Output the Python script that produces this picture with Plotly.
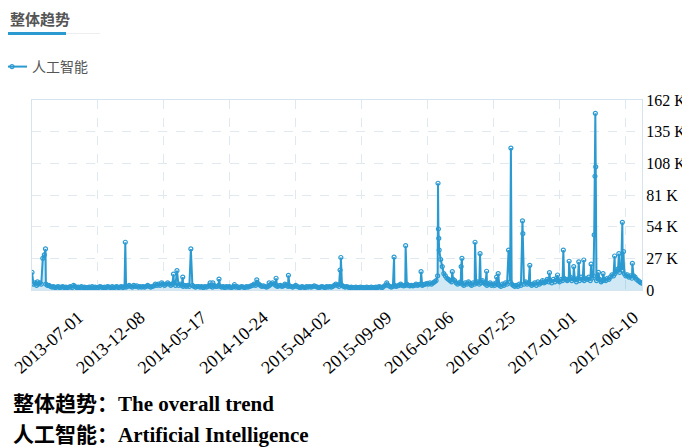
import plotly.graph_objects as go

# ---------------- data (values in thousands, "K") ----------------
series_name = "人工智能"
title_text = "整体趋势"
caption_lines = ["整体趋势：The overall trend", "人工智能：Artificial Intelligence"]

# category-axis labels (one label every 160 categories)
tick_labels = ["2013-07-01", "2013-12-08", "2014-05-17", "2014-10-24", "2015-04-02",
               "2015-09-09", "2016-02-06", "2016-07-25", "2017-01-01", "2017-06-10"]
first_label_index = 136
label_interval = 160
n_categories = 1583

y_tick_values = [0, 27, 54, 81, 108, 135, 162]
y_tick_labels = ["0", "27 K", "54 K", "81 K", "108 K", "135 K", "162 K"]

# baseline level read every 4th category
base_step = 4
baseline = [
    15, 5, 6, 4, 5, 6, 5, 4, 7, 5, 4, 4,
    3, 2.5, 3, 2, 2.5, 3, 2, 2.5, 3, 2, 2.5, 2,
    2.5, 3, 2, 4, 3, 2, 2.5, 2, 3, 2, 2.5, 2,
    2, 2.5, 2, 3, 2, 2.5, 2, 2, 3, 2.5, 2, 2.5,
    2, 3, 2.5, 2, 3, 2, 2.5, 3, 2, 2.5, 3, 2,
    3, 2.5, 3, 4, 3, 2.5, 4, 3, 3.5, 2.5, 3, 2.5,
    3, 2.5, 3, 4, 3, 2.5, 3, 3.5, 5, 4, 5, 4,
    6, 5, 4, 5, 6, 5, 4, 5, 6, 4, 5, 4,
    5, 4, 3, 4, 3, 4, 3, 3, 4, 3, 2.5, 3,
    3, 2.5, 3, 2, 3, 2.5, 3, 4, 3, 2.5, 4, 3,
    3, 4, 3, 2.5, 3, 2, 3, 2.5, 3, 2, 2.5, 3,
    2.5, 3, 2, 2.5, 3, 2.5, 2, 3, 2.5, 3, 3.5, 4,
    5, 4, 6, 5, 4, 3, 3.5, 3, 2.5, 3, 4, 5,
    6, 5, 4, 3, 3.5, 4, 3, 3.5, 5, 4, 3, 3.5,
    3, 2.5, 3, 4, 3, 2.5, 2, 3, 2.5, 2, 3, 2.5,
    3, 2.5, 3, 3.5, 3, 2.5, 2, 2.5, 3, 2.5, 2, 3,
    2.5, 3, 2.5, 3, 4, 5, 4, 3, 5, 4, 3, 2.5,
    3, 2.5, 2, 2.5, 2, 2, 2.5, 2, 2, 2.5, 2, 2,
    2, 2.5, 2, 2, 2.5, 2, 2, 2.5, 2, 3, 2.5, 2,
    3, 4, 6, 4, 3, 2.5, 3, 4, 3, 3.5, 4, 5,
    4, 3.5, 4, 5, 4, 3.5, 4, 3.5, 4, 5, 4, 4.5,
    5, 4, 4.5, 5, 5.5, 5, 6, 5, 6, 7, 8, 12,
    34, 26, 20, 14, 12, 10, 9, 8, 7, 9, 8, 6,
    5, 6, 7, 5, 4, 6, 5, 7, 5, 4, 6, 5,
    6, 7, 5, 6, 8, 6, 5, 4, 5, 6, 4, 5,
    4, 6, 5, 4, 3, 5, 4, 6, 5, 8, 7, 5,
    4, 3, 4, 3, 5, 4, 6, 5, 7, 5, 6, 5,
    4, 5, 6, 4, 7, 5, 6, 8, 6, 7, 9, 7,
    8, 6, 9, 7, 10, 8, 7, 9, 8, 10, 9, 8,
    9, 11, 8, 10, 9, 7, 10, 8, 11, 9, 8, 10,
    9, 11, 8, 10, 12, 9, 8, 10, 9, 7, 8, 9,
    8, 10, 9, 11, 13, 12, 14, 16, 18, 15, 19, 17,
    14, 12, 13, 11, 12, 10, 12, 11, 9, 8, 7, 6,
]

# individual peaks: category index and value (K)
peak_index = [14, 28, 32, 35, 242, 367, 376, 391, 412, 462, 469, 485, 525, 583, 615,
              633, 665, 799, 801, 939, 969, 1009, 1053, 1054, 1055, 1090, 1113, 1115,
              1149, 1162, 1179, 1205, 1209, 1236, 1242, 1272, 1273, 1291, 1342, 1363,
              1378, 1393, 1405, 1418, 1431, 1450, 1458, 1460, 1461, 1462, 1469, 1481,
              1511, 1522, 1531, 1534, 1557, 1582]
peak_value = [7, 27, 30, 35, 40.7, 13.5, 16.5, 11, 35, 6, 6, 9.3, 4.5, 8.7, 6,
              10, 12.5, 17, 27.7, 28, 37.8, 15.6, 91, 52, 44, 15.6, 20, 27,
              40.7, 31, 16, 11, 14, 34, 121, 59, 48, 21, 14.8, 12.8,
              34, 24.5, 20, 24, 25.6, 22, 47, 97, 150.6, 105, 15, 14,
              29, 31, 57.7, 32.7, 22.7, 6]

# ---------------- build series ----------------
points = {i * base_step: v for i, v in enumerate(baseline)}
for idx, v in zip(peak_index, peak_value):
    points[idx] = v
xs = sorted(points)
ys = [points[k] for k in xs]

BLUE = "#2b9ad1"
GRID = "#dfe9ef"
FRAME = "#d5e4ee"

fig = go.Figure()
# area under the line (no legend entry)
fig.add_trace(go.Scatter(
    x=xs, y=ys, mode="lines", line=dict(width=0, color=BLUE),
    fill="tozeroy", fillcolor="rgba(43,154,209,0.22)",
    showlegend=False, hoverinfo="skip",
))
# the line with hollow markers
fig.add_trace(go.Scatter(
    x=xs, y=ys, name=series_name, mode="lines+markers",
    line=dict(color=BLUE, width=2),
    marker=dict(symbol="circle-open", size=4, color=BLUE, line=dict(width=1.2, color=BLUE)),
    showlegend=True,
))

tickvals = [first_label_index + label_interval * k for k in range(len(tick_labels))]

# page body has an 8px margin, so the figure is 8px smaller than the window
fig.update_layout(
    width=682, height=439,
    margin=dict(l=24, r=48, t=92, b=157, autoexpand=False),
    paper_bgcolor="white", plot_bgcolor="white",
    showlegend=True,
    legend=dict(x=(-8 - 32) / 610, y=(290 - 67) / 190, xanchor="left", yanchor="middle",
                bgcolor="rgba(0,0,0,0)", font=dict(family="Noto Sans CJK SC", size=14, color="#555"),
                itemwidth=30),
    xaxis=dict(
        range=[0, n_categories - 1], tickmode="array", tickvals=tickvals, ticktext=tick_labels,
        tickangle=-41, tickfont=dict(family="Liberation Serif", size=18, color="#000"),
        ticklabelshift=-6, ticklabelstandoff=9,
        showgrid=False, zeroline=False, ticks="", automargin=False,
        showline=True, mirror=True, linecolor=FRAME, linewidth=1,
        minor=dict(tick0=0, dtick=171, showgrid=True, gridcolor=GRID, griddash="dash", ticklen=0),
    ),
    yaxis=dict(
        side="right", range=[0, 162], tickmode="array", tickvals=y_tick_values, ticktext=y_tick_labels,
        tickfont=dict(family="Liberation Serif", size=16, color="#000"),
        showgrid=True, gridcolor=GRID, griddash="dash", zeroline=False, ticks="", automargin=False,
        showline=True, mirror=True, linecolor=FRAME, linewidth=1,
    ),
    annotations=[
        dict(text="<b>" + title_text + "</b>", xref="paper", yref="paper",
             x=(8 - 32) / 610, y=(290 - 18) / 190, xanchor="left", yanchor="middle",
             showarrow=False, font=dict(family="Noto Sans CJK SC", size=15, color="#555")),
        dict(text="<b>" + caption_lines[0] + "</b>", xref="paper", yref="paper",
             x=(11 - 32) / 610, y=(290 - 404) / 190, xanchor="left", yanchor="middle",
             showarrow=False, font=dict(family="Liberation Serif, Noto Sans CJK SC", size=21, color="#000")),
        dict(text="<b>" + caption_lines[1] + "</b>", xref="paper", yref="paper",
             x=(11 - 32) / 610, y=(290 - 435) / 190, xanchor="left", yanchor="middle",
             showarrow=False, font=dict(family="Liberation Serif, Noto Sans CJK SC", size=21, color="#000")),
    ],
    shapes=[
        dict(type="rect", xref="paper", yref="paper",
             x0=(8 - 32) / 610, x1=(66 - 32) / 610, y0=(290 - 35) / 190, y1=(290 - 32) / 190,
             fillcolor=BLUE, line=dict(width=0)),
        dict(type="line", xref="paper", yref="paper",
             x0=(66 - 32) / 610, x1=(100 - 32) / 610, y0=(290 - 33.5) / 190, y1=(290 - 33.5) / 190,
             line=dict(color="#eeeeee", width=1)),
    ],
)

fig.write_html("out.html")
